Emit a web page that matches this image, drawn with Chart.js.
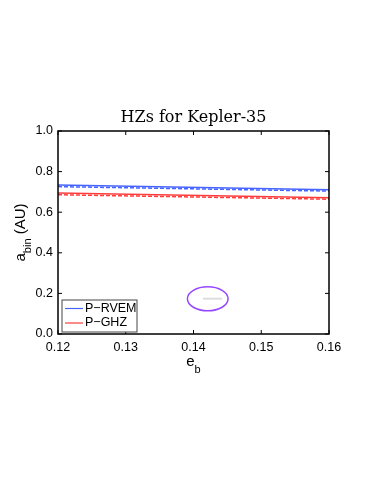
<!DOCTYPE html>
<html>
<head>
<meta charset="utf-8">
<script src="https://cdn.jsdelivr.net/npm/chart.js@4.4.1/dist/chart.umd.min.js"></script>
<style>
  html, body { margin: 0; padding: 0; background: #fff; }
  #wrap { width: 374px; height: 484px; }
</style>
</head>
<body>
<div id="wrap"><canvas id="myChart" width="374" height="484"></canvas></div>
<script>
// data
const eb = [0.12, 0.16];
const rvemSolid = [0.734, 0.711];
const rvemDashed = [0.726, 0.704];
const ghzSolid = [0.694, 0.671];
const ghzDashed = [0.686, 0.664];
const markX = [0.1414, 0.1442];
const markY = [0.174, 0.174];
const ellipse = { cx: 0.1421, cy: 0.1735, rx: 0.0030, ry: 0.059 };
const xTicks = [0.12, 0.13, 0.14, 0.15, 0.16];
const yTicks = [0.0, 0.2, 0.4, 0.6, 0.8, 1.0];
const legendLabels = ["P\u2212RVEM", "P\u2212GHZ"];

const BLUE = "rgb(70,100,255)";
const RED = "rgb(255,60,60)";
const SANS = "'Liberation Sans', Arial, sans-serif";

function pts(xs, ys) {
  return xs.map((x, i) => ({ x: x, y: ys[i] }));
}

const extras = {
  id: "extras",
  afterDraw(chart) {
    const ctx = chart.ctx;
    const a = chart.chartArea;
    const xs = chart.scales.x, ys = chart.scales.y;
    ctx.save();

    // ellipse
    const cx = xs.getPixelForValue(ellipse.cx), cy = ys.getPixelForValue(ellipse.cy);
    const rx = Math.abs(xs.getPixelForValue(ellipse.cx + ellipse.rx) - cx);
    const ry = Math.abs(ys.getPixelForValue(ellipse.cy + ellipse.ry) - cy);
    ctx.strokeStyle = "rgb(150,70,255)";
    ctx.lineWidth = 1.5;
    ctx.beginPath();
    ctx.ellipse(cx, cy, rx, ry, 0, 0, 2 * Math.PI);
    ctx.stroke();

    // box
    ctx.strokeStyle = "#000";
    ctx.lineWidth = 1.5;
    ctx.strokeRect(a.left, a.top, a.right - a.left, a.bottom - a.top);

    // inward ticks
    ctx.lineWidth = 1;
    xTicks.forEach(v => {
      const p = xs.getPixelForValue(v);
      ctx.beginPath();
      ctx.moveTo(p, a.bottom); ctx.lineTo(p, a.bottom - 4);
      ctx.moveTo(p, a.top); ctx.lineTo(p, a.top + 4);
      ctx.stroke();
    });
    yTicks.forEach(v => {
      const p = ys.getPixelForValue(v);
      ctx.beginPath();
      ctx.moveTo(a.left, p); ctx.lineTo(a.left + 4, p);
      ctx.moveTo(a.right, p); ctx.lineTo(a.right - 4, p);
      ctx.stroke();
    });

    // legend
    ctx.fillStyle = "#fff";
    ctx.fillRect(62, 300, 75, 32);
    ctx.strokeStyle = "#444";
    ctx.lineWidth = 1;
    ctx.strokeRect(62, 300, 75, 32);
    ctx.font = "12.5px " + SANS;
    ctx.textBaseline = "middle";
    ctx.textAlign = "left";
    [[BLUE, 308.5], [RED, 323]].forEach((r, i) => {
      ctx.strokeStyle = r[0];
      ctx.lineWidth = 1.2;
      ctx.beginPath();
      ctx.moveTo(65, r[1]); ctx.lineTo(83, r[1]);
      ctx.stroke();
      ctx.fillStyle = "#000";
      ctx.fillText(legendLabels[i], 85, r[1]);
    });

    // title
    ctx.fillStyle = "#000";
    ctx.font = "16px 'DejaVu Serif', 'Liberation Serif', serif";
    ctx.textAlign = "center";
    ctx.textBaseline = "middle";
    ctx.fillText("HZs for Kepler-35", (a.left + a.right) / 2, 118);

    // x title
    ctx.font = "15px " + SANS;
    ctx.textAlign = "left";
    const ew = ctx.measureText("e").width;
    ctx.font = "11px " + SANS;
    const bw = ctx.measureText("b").width;
    let x0 = (a.left + a.right) / 2 - (ew + bw) / 2;
    ctx.font = "15px " + SANS;
    ctx.fillText("e", x0, 362);
    ctx.font = "11px " + SANS;
    ctx.fillText("b", x0 + ew, 370);

    // y title
    ctx.translate(21, (a.top + a.bottom) / 2);
    ctx.rotate(-Math.PI / 2);
    ctx.font = "15px " + SANS;
    const aw = ctx.measureText("a").width;
    const uw = ctx.measureText(" (AU)").width;
    ctx.font = "11px " + SANS;
    const sw = ctx.measureText("bin").width;
    x0 = -(aw + sw + uw) / 2;
    ctx.font = "15px " + SANS;
    ctx.fillText("a", x0, 0);
    ctx.fillText(" (AU)", x0 + aw + sw, 0);
    ctx.font = "11px " + SANS;
    ctx.fillText("bin", x0 + aw, 7);

    ctx.restore();
  }
};

function createChart() {
  const ctx = document.getElementById("myChart").getContext("2d");
  new Chart(ctx, {
    type: "scatter",
    data: {
      datasets: [
        { data: pts(eb, rvemSolid), borderColor: BLUE, borderWidth: 1.5 },
        { data: pts(eb, rvemDashed), borderColor: BLUE, borderWidth: 1.5, borderDash: [4, 2] },
        { data: pts(eb, ghzSolid), borderColor: RED, borderWidth: 1.5 },
        { data: pts(eb, ghzDashed), borderColor: RED, borderWidth: 1.5, borderDash: [4, 2] },
        { data: pts(markX, markY), borderColor: "#ddd", borderWidth: 2 },
      ].map(d => Object.assign(d, { showLine: true, pointRadius: 0, fill: false })),
    },
    options: {
      responsive: false,
      animation: false,
      layout: { padding: { left: 18, right: 45, top: 131, bottom: 120 } },
      plugins: { legend: { display: false }, tooltip: { enabled: false } },
      scales: {
        x: {
          type: "linear",
          min: 0.12,
          max: 0.16,
          afterBuildTicks: s => { s.ticks = xTicks.map(v => ({ value: v })); },
          afterFit: s => { s.height = 30; },
          grid: { display: false, drawTicks: false },
          border: { display: false },
          ticks: {
            color: "#000",
            padding: 6,
            maxRotation: 0,
            font: { family: SANS, size: 12.5 },
            callback: v => v.toFixed(2),
          },
        },
        y: {
          min: 0,
          max: 1,
          afterBuildTicks: s => { s.ticks = yTicks.map(v => ({ value: v })); },
          afterFit: s => { s.width = 40; },
          grid: { display: false, drawTicks: false },
          border: { display: false },
          ticks: {
            color: "#000",
            padding: 5,
            font: { family: SANS, size: 12.5 },
            callback: v => v.toFixed(1),
          },
        },
      },
    },
    plugins: [extras],
  });
}

createChart();
</script>
</body>
</html>
